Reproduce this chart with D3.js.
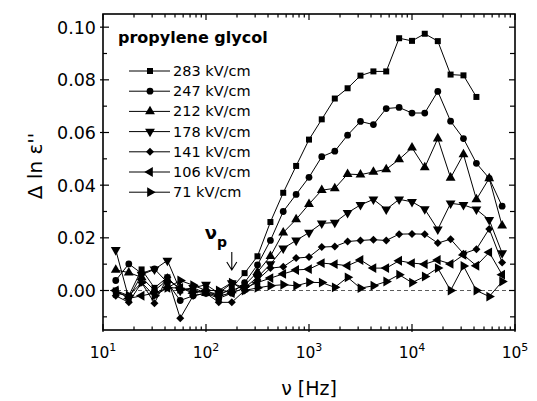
<!DOCTYPE html>
<html>
<head>
<meta charset="utf-8">
<script src="https://cdn.jsdelivr.net/npm/d3@7"></script>
<style>
  body { margin: 0; background: #fff; }
  svg { display: block; }
</style>
</head>
<body>
<svg id="chart"></svg>
<script>
/* ── data ── */
const freqs = [13.3, 17.8, 23.7, 31.6, 42.2, 56.2, 75.0, 100, 133, 178, 237, 316, 422, 562, 750,
               1000, 1330, 1780, 2370, 3160, 4220, 5620, 7500, 10000, 13300, 17800, 23700, 31600,
               42200, 56200, 75000];

const fieldLabels = ['283 kV/cm', '247 kV/cm', '212 kV/cm', '178 kV/cm', '141 kV/cm', '106 kV/cm', '71 kV/cm'];

const s283 = [0.000, -0.002, 0.008, 0.001, 0.005, 0.000, 0.001, -0.001, -0.002, 0.001, 0.0066, 0.013,
              0.026, 0.0371, 0.0473, 0.0573, 0.0650, 0.0729, 0.0768, 0.0816, 0.0832, 0.0832, 0.0958,
              0.0948, 0.0975, 0.0947, 0.0820, 0.0817, 0.0735];
const s247 = [0.0038, 0.0101, 0.0065, 0.0082, 0.003, -0.0038, -0.002, -0.001, -0.003, -0.001, 0.003,
              0.0097, 0.019, 0.030, 0.0365, 0.0430, 0.0508, 0.0529, 0.0590, 0.0642, 0.0630, 0.0691,
              0.0695, 0.0674, 0.0674, 0.0756, 0.0643, 0.0577, 0.0483, 0.0426, 0.0320];
const s212 = [0.0078, 0.0068, 0.005, 0.000, 0.004, 0.001, 0.000, -0.001, -0.001, 0.000, 0.002, 0.007,
              0.013, 0.022, 0.027, 0.0328, 0.0381, 0.0388, 0.0442, 0.0440, 0.0450, 0.0460, 0.0498,
              0.0542, 0.0467, 0.0577, 0.0428, 0.0517, 0.0346, 0.0426, 0.0246];
const s178 = [0.0154, -0.003, 0.006, 0.008, 0.0114, 0.000, 0.001, 0.0022, -0.001, 0.0028, 0.001, 0.005,
              0.010, 0.016, 0.019, 0.022, 0.0255, 0.0258, 0.0295, 0.0325, 0.0346, 0.0308, 0.0346,
              0.0337, 0.0309, 0.0232, 0.0331, 0.0325, 0.0308, 0.0268, 0.0142];
const s141 = [-0.002, -0.0045, 0.003, -0.0048, 0.005, -0.0105, -0.002, -0.001, -0.0045, -0.0045, 0.000,
              0.004, 0.0085, 0.009, 0.0123, 0.0127, 0.0165, 0.0167, 0.0186, 0.0190, 0.0193, 0.0190,
              0.0214, 0.0215, 0.0214, 0.0180, 0.0195, 0.0140, 0.0157, 0.0234, 0.0106];
const s106 = [0.000, -0.003, -0.002, -0.001, 0.001, 0.001, -0.001, 0.000, -0.002, -0.001, 0.001, 0.003,
              0.0047, 0.0063, 0.0078, 0.0081, 0.0104, 0.0100, 0.0094, 0.0116, 0.0085, 0.0085, 0.0113,
              0.0104, 0.0100, 0.0116, 0.0101, 0.0135, 0.0094, 0.0145, 0.0060];
const s71  = [-0.001, -0.002, 0.003, -0.002, 0.001, 0.0038, 0.002, 0.000, 0.000, 0.003, 0.000, 0.001,
              0.0018, 0.0022, 0.0018, 0.0031, 0.0030, 0.0012, 0.0050, 0.0009, 0.0018, 0.0034, 0.0060,
              0.0030, 0.0053, 0.0085, 0.0000, 0.0093, 0.0000, -0.0023, 0.0034];

const yMajor = [0.00, 0.02, 0.04, 0.06, 0.08, 0.10];
const yMinor = [-0.01, 0.01, 0.03, 0.05, 0.07, 0.09];
const xMajor = [10, 100, 1000, 10000, 100000];
const xExp   = ['1', '2', '3', '4', '5'];

/* ── layout ── */
const W = 537, H = 401;
const margin = { top: 14, right: 22, bottom: 71, left: 103 };
const iW = W - margin.left - margin.right;
const iH = H - margin.top - margin.bottom;
const FONT = '"DejaVu Sans", sans-serif';

const svg = d3.select('#chart').attr('width', W).attr('height', H);
const g = svg.append('g').attr('transform', `translate(${margin.left},${margin.top})`);

const x = d3.scaleLog().domain([10, 100000]).range([0, iW]);
const y = d3.scaleLinear().domain([-0.015, 0.105]).range([iH, 0]);

/* ── zero line ── */
g.append('line')
  .attr('x1', 0).attr('x2', iW)
  .attr('y1', y(0)).attr('y2', y(0))
  .attr('stroke', '#333').attr('stroke-width', 0.8)
  .attr('stroke-dasharray', '4,3');

/* ── axes (ticks point inward) ── */
const xMinor = [];
for (let d = 10; d < 100000; d *= 10) for (let k = 2; k <= 9; k++) xMinor.push(d * k);

function axisTicks(sel) {
  xMajor.forEach(v => {
    sel.append('line').attr('x1', x(v)).attr('x2', x(v)).attr('y1', iH + 2).attr('y2', iH - 6);
    sel.append('line').attr('x1', x(v)).attr('x2', x(v)).attr('y1', 0).attr('y2', 6);
  });
  xMinor.forEach(v => {
    sel.append('line').attr('x1', x(v)).attr('x2', x(v)).attr('y1', iH).attr('y2', iH - 3.5);
    sel.append('line').attr('x1', x(v)).attr('x2', x(v)).attr('y1', 0).attr('y2', 3.5);
  });
  yMajor.forEach(v => {
    sel.append('line').attr('x1', -3).attr('x2', 6).attr('y1', y(v)).attr('y2', y(v));
    sel.append('line').attr('x1', iW).attr('x2', iW - 6).attr('y1', y(v)).attr('y2', y(v));
  });
  yMinor.forEach(v => {
    sel.append('line').attr('x1', 0).attr('x2', 4).attr('y1', y(v)).attr('y2', y(v));
    sel.append('line').attr('x1', iW).attr('x2', iW - 5).attr('y1', y(v)).attr('y2', y(v));
  });
}
const ticks = g.append('g').attr('stroke', '#000').attr('stroke-width', 1.2);
axisTicks(ticks);

g.append('rect')
  .attr('width', iW).attr('height', iH)
  .attr('fill', 'none').attr('stroke', '#000').attr('stroke-width', 1.6);

/* tick labels */
yMajor.forEach(v => {
  g.append('text')
    .attr('x', -7).attr('y', y(v) + 6.5)
    .attr('text-anchor', 'end')
    .attr('font-family', FONT).attr('font-size', 17.5)
    .text(d3.format('.2f')(v));
});
xMajor.forEach((v, i) => {
  const t = g.append('text')
    .attr('x', x(v)).attr('y', iH + 28)
    .attr('text-anchor', 'middle')
    .attr('font-family', FONT).attr('font-size', 15.5);
  t.append('tspan').text('10');
  t.append('tspan').attr('dy', -7).attr('font-size', 11).text(xExp[i]);
});

/* axis titles */
svg.append('text')
  .attr('x', margin.left + iW / 2).attr('y', 395)
  .attr('text-anchor', 'middle')
  .attr('font-family', FONT).attr('font-size', 19)
  .text('ν [Hz]');
svg.append('text')
  .attr('transform', 'translate(42,166) rotate(-90)')
  .attr('text-anchor', 'middle')
  .attr('font-family', FONT).attr('font-size', 20)
  .text('Δ ln ε\'\'');

/* ── series ── */
const seriesList = [s283, s247, s212, s178, s141, s106, s71];
const shapes = [
  { type: d3.symbolSquare,   size: 36, rot: 0 },
  { type: d3.symbolCircle,   size: 36, rot: 0 },
  { type: d3.symbolTriangle, size: 42, rot: 0 },
  { type: d3.symbolTriangle, size: 42, rot: 180 },
  { type: d3.symbolSquare,   size: 32, rot: 45 },
  { type: d3.symbolTriangle, size: 42, rot: -90 },
  { type: d3.symbolTriangle, size: 42, rot: 90 },
];

const line = d3.line()
  .x(d => x(d[0]))
  .y(d => y(d[1]));

seriesList.forEach((vals, si) => {
  const pts = vals.map((v, i) => [freqs[i], v]);
  const sh = shapes[si];
  g.append('path')
    .datum(pts)
    .attr('fill', 'none').attr('stroke', '#000').attr('stroke-width', 1)
    .attr('d', line);
  g.selectAll(null)
    .data(pts)
    .join('path')
    .attr('transform', d => `translate(${x(d[0])},${y(d[1])}) rotate(${sh.rot})`)
    .attr('d', d3.symbol().type(sh.type).size(sh.size))
    .attr('fill', '#000');
});

/* ── legend ── */
svg.append('text')
  .attr('x', 118).attr('y', 43)
  .attr('font-family', FONT).attr('font-size', 16).attr('font-weight', 'bold')
  .text('propylene glycol');

fieldLabels.forEach((lab, i) => {
  const ly = 71 + i * 20.2;
  const sh = shapes[i];
  svg.append('line')
    .attr('x1', 129).attr('x2', 170).attr('y1', ly).attr('y2', ly)
    .attr('stroke', '#000').attr('stroke-width', 1);
  svg.append('path')
    .attr('transform', `translate(150,${ly}) rotate(${sh.rot})`)
    .attr('d', d3.symbol().type(sh.type).size(sh.size))
    .attr('fill', '#000');
  svg.append('text')
    .attr('x', 173).attr('y', ly + 5)
    .attr('font-family', FONT).attr('font-size', 14.5)
    .text(lab);
});

/* ── νp marker ── */
const nuX = x(178);
const ann = svg.append('text')
  .attr('x', margin.left + nuX - 27).attr('y', 239)
  .attr('font-family', FONT).attr('font-size', 18).attr('font-weight', 'bold');
ann.append('tspan').text('ν');
ann.append('tspan').attr('dy', 8).attr('font-size', 14).text('p');

const ax = margin.left + nuX;
svg.append('path')
  .attr('d', `M${ax},252 L${ax},270 M${ax - 5},262 L${ax},270 L${ax + 5},262`)
  .attr('fill', 'none').attr('stroke', '#000').attr('stroke-width', 1.1);
</script>
</body>
</html>
